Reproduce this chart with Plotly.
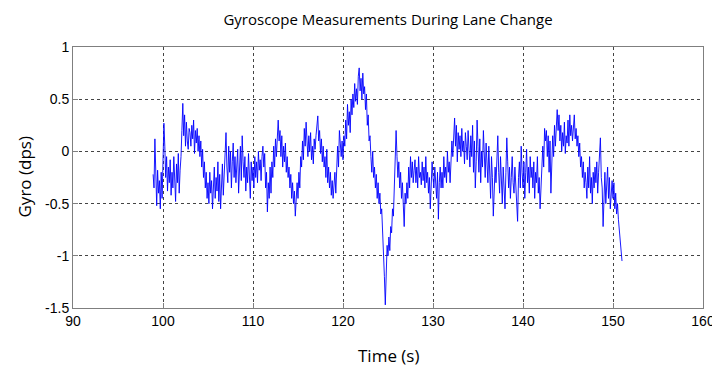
import plotly.graph_objects as go

# Sampling of the gyro trace
t_start = 98.9
dt = 0.1

gyro_dps = [
    # 98.9 - 99.9
    -0.22, -0.35, 0.12, -0.30, -0.52, -0.18, -0.40, -0.28, -0.55, -0.20, -0.45,
    # 100
    -0.10, 0.27, 0.05, -0.25, -0.05, -0.38, -0.15, -0.30, -0.08, -0.42,
    # 101
    -0.20, -0.35, -0.05, -0.28, -0.48, -0.12, -0.30, -0.02, -0.40, -0.18,
    # 102
    -0.05, 0.20, 0.46, 0.15, 0.35, 0.05, 0.28, 0.10, 0.02, 0.22,
    # 103
    0.18, 0.05, 0.25, 0.12, 0.30, -0.02, 0.20, 0.08, 0.22, 0.00,
    # 104
    0.15, -0.05, 0.10, -0.15, 0.02, -0.25, -0.10, -0.35, -0.20, -0.45,
    # 105
    -0.30, -0.50, -0.20, -0.40, -0.28, -0.55, -0.32, -0.15, -0.45, -0.25,
    # 106
    -0.38, -0.10, -0.48, -0.22, -0.55, -0.30, -0.12, -0.42, -0.20, -0.05,
    # 107
    0.18, -0.15, -0.30, 0.05, -0.20, 0.00, -0.35, -0.10, 0.08, -0.25,
    # 108
    -0.05, -0.30, -0.12, 0.02, -0.40, -0.18, 0.05, -0.28, 0.15, -0.10,
    # 109
    -0.25, -0.05, -0.38, -0.15, -0.30, -0.02, -0.22, -0.45, -0.10, -0.28,
    # 110
    -0.15, -0.35, -0.05, -0.25, -0.10, -0.30, 0.00, -0.18, -0.08, -0.28,
    # 111
    -0.05, 0.05, -0.15, -0.02, -0.35, -0.20, -0.58, -0.30, -0.45, -0.15,
    # 112
    -0.40, -0.10, -0.25, 0.05, -0.15, 0.12, -0.05, 0.22, 0.30, 0.10,
    # 113
    0.20, -0.05, 0.15, -0.15, 0.05, -0.10, 0.08, -0.20, -0.05, -0.25,
    # 114
    -0.15, -0.35, -0.22, -0.45, -0.30, -0.50, -0.38, -0.62, -0.40, -0.30,
    # 115
    -0.45, -0.20, -0.35, -0.05, -0.15, 0.10, -0.08, 0.22, 0.05, 0.28,
    # 116
    0.10, -0.05, 0.15, 0.00, 0.18, -0.08, 0.05, -0.12, 0.12, 0.02,
    # 117
    0.15, 0.25, 0.34, 0.10, 0.20, -0.02, 0.12, -0.10, 0.05, -0.15,
    # 118
    -0.05, -0.25, 0.02, -0.30, -0.15, -0.35, -0.20, -0.42, -0.28, -0.45,
    # 119
    -0.30, -0.20, -0.40, -0.10, 0.05, -0.15, 0.20, 0.08, -0.05, 0.10,
    # 120
    -0.08, 0.15, 0.05, 0.30, 0.12, 0.45, 0.25, 0.38, 0.18, 0.50,
    # 121
    0.35, 0.55, 0.42, 0.65, 0.48, 0.60, 0.45, 0.72, 0.80, 0.58,
    # 122
    0.70, 0.50, 0.75, 0.55, 0.62, 0.40, 0.55, 0.25, 0.35, 0.10,
    # 123
    0.15, -0.05, -0.20, 0.00, -0.25, -0.15, -0.35, -0.22, -0.45, -0.30,
    # 124
    -0.50, -0.40, -0.60, -0.55, -0.85, -0.95, -1.20, -1.47, -1.10, -0.90,
    # 125
    -1.00, -0.82, -0.95, -0.72, -0.78, -0.55, -0.62, -0.35, -0.05, 0.20,
    # 126
    -0.05, -0.25, -0.10, -0.35, -0.20, -0.45, -0.30, -0.55, -0.72, -0.40,
    # 127
    -0.50, -0.30, -0.45, -0.15, -0.35, -0.05, -0.25, -0.10, -0.30, -0.18,
    # 128
    -0.08, -0.30, -0.15, -0.35, -0.05, -0.25, -0.20, -0.32, -0.10, -0.28,
    # 129
    -0.15, -0.35, -0.05, -0.30, -0.20, -0.40, -0.25, -0.55, -0.30, -0.10,
    # 130
    -0.25, -0.35, -0.15, -0.30, -0.45, -0.20, -0.65, -0.30, -0.15, -0.35,
    # 131
    -0.20, -0.35, -0.05, -0.25, -0.15, -0.30, 0.00, -0.20, -0.10, -0.30,
    # 132
    -0.15, 0.10, -0.05, 0.20, 0.32, 0.05, 0.25, -0.10, 0.18, 0.02,
    # 133
    0.15, -0.05, 0.22, 0.00, 0.10, -0.12, 0.18, 0.05, -0.08, 0.20,
    # 134
    0.05, -0.15, 0.15, -0.05, 0.25, -0.20, 0.10, -0.35, -0.10, 0.30,
    # 135
    0.05, -0.20, 0.12, -0.30, 0.00, -0.15, 0.20, -0.05, -0.25, 0.08,
    # 136
    -0.10, -0.30, 0.05, -0.20, -0.45, -0.05, -0.25, -0.62, -0.35, -0.15,
    # 137
    -0.30, -0.10, 0.15, -0.20, -0.40, -0.05, -0.25, -0.50, -0.15, -0.35,
    # 138
    -0.55, -0.20, 0.13, -0.10, -0.35, -0.15, -0.45, -0.25, -0.05, -0.30,
    # 139
    -0.40, -0.15, -0.30, -0.50, -0.67, -0.25, -0.10, -0.35, 0.05, -0.20,
    # 140
    -0.35, -0.10, -0.45, -0.20, 0.02, -0.30, -0.15, -0.40, -0.05, -0.25,
    # 141
    -0.15, -0.35, -0.10, -0.45, -0.20, -0.30, -0.05, -0.40, -0.25, -0.55,
    # 142
    -0.30, -0.10, 0.05, -0.15, 0.22, 0.10, 0.20, -0.05, 0.15, -0.20,
    # 143
    0.10, -0.40, -0.10, 0.15, -0.05, 0.25, 0.05, 0.30, 0.40, 0.20,
    # 144
    0.35, 0.10, 0.25, 0.00, 0.18, 0.05, 0.28, -0.02, 0.15, 0.08,
    # 145
    0.30, 0.05, 0.35, 0.15, 0.25, 0.10, 0.20, 0.35, 0.12, 0.22,
    # 146
    0.05, 0.15, -0.05, 0.08, -0.15, -0.05, -0.25, -0.10, -0.35, -0.20,
    # 147
    -0.30, -0.45, -0.15, -0.35, -0.05, -0.40, -0.25, -0.50, -0.20, -0.35,
    # 148
    -0.15, -0.30, -0.10, -0.40, -0.20, -0.05, 0.13, -0.25, -0.35, -0.72,
    # 149
    -0.40, -0.20, -0.50, -0.30, -0.15, -0.45, -0.25, -0.55, -0.35, -0.28,
    # 150
    -0.45, -0.30, -0.55, -0.40, -0.60, -0.50, -0.65, -0.75, -0.85, -0.90,
    # 151
    -1.05,
]

time_s = [round(t_start + dt * i, 2) for i in range(len(gyro_dps))]

x_ticks = [90, 100, 110, 120, 130, 140, 150, 160]
y_ticks = [-1.5, -1, -0.5, 0, 0.5, 1]
y_tick_labels = ["-1.5", "-1", "-0.5", "0", "0.5", "1"]

fig = go.Figure()
fig.add_trace(go.Scatter(
    x=time_s, y=gyro_dps, mode="lines",
    line=dict(color="#0000ff", width=0.9),
    showlegend=False,
))

axis_common = dict(
    showline=True, linecolor="#7f7f7f", linewidth=1, mirror=True,
    showgrid=True, gridcolor="#444444", griddash="dot", gridwidth=1,
    ticks="inside", ticklen=5, tickcolor="#7f7f7f",
    zeroline=False, automargin=False,
    tickfont=dict(family="Liberation Sans, Arial", size=14, color="#000000"),
)

label_font = dict(family="Open Sans, Noto Sans", size=17, color="#000000")

# page has an 8px body margin, so the figure is 712x372 placed at (8, 8)
fig.update_layout(
    width=712, height=372,
    margin=dict(l=65, r=17, t=39, b=72),
    paper_bgcolor="white", plot_bgcolor="white",
    title=dict(
        text="Gyroscope Measurements During Lane Change",
        x=380 / 712, xanchor="center",
        y=1 - 12 / 372, yanchor="middle",
        font=dict(family="Open Sans, Noto Sans", size=15, color="#000000"),
    ),
    xaxis=dict(range=[90, 160], tickvals=x_ticks, **axis_common),
    yaxis=dict(range=[-1.5, 1], tickvals=y_ticks, ticktext=y_tick_labels, **axis_common),
    annotations=[
        dict(text="Time (s)", xref="paper", yref="paper", x=0.5, y=-(355 - 308) / 261,
             xanchor="center", yanchor="middle", showarrow=False, font=label_font),
        dict(text="Gyro (dps)", xref="paper", yref="paper", x=-(73 - 24) / 630, y=0.5,
             xanchor="center", yanchor="middle", textangle=-90, showarrow=False,
             font=label_font),
    ],
)

fig.write_html("out.html")
